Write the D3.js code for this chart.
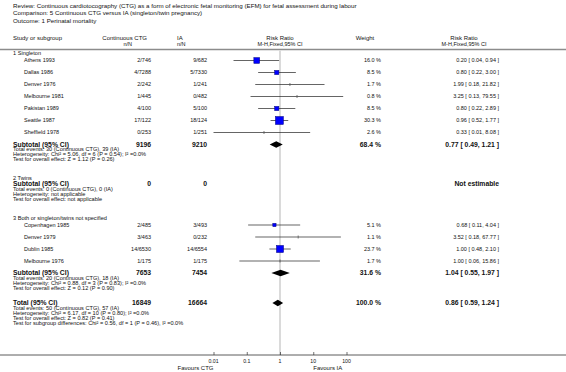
<!DOCTYPE html>
<html><head><meta charset="utf-8">
<script src="https://cdn.jsdelivr.net/npm/d3@7"></script>
<style>
html,body{margin:0;padding:0;background:#fff;}
svg{display:block;font-family:"Liberation Sans",Arial,sans-serif;}
</style></head>
<body><svg id="c" width="566" height="372"></svg>
<script>
// ---------- data ----------
const titleLines = [
  "Review:  Continuous cardiotocography (CTG) as a form of electronic fetal monitoring (EFM) for fetal assessment during labour",
  "Comparison:  5 Continuous CTG versus IA (singleton/twin pregnancy)",
  "Outcome:  1 Perinatal mortality"
];
const groupLabels = ["1 Singleton", "2 Twins", "3 Both or singleton/twins not specified"];
const studyNames = ["Athens 1993","Dallas 1986","Denver 1976","Melbourne 1981","Pakistan 1989","Seattle 1987","Sheffield 1978",
                    "Copenhagen 1985","Denver 1979","Dublin 1985","Melbourne 1976"];
const studyGroup = [0,0,0,0,0,0,0, 2,2,2,2];
const ctgNN = ["2/746","4/7288","2/242","1/445","4/100","17/122","0/253", "2/485","3/463","14/6530","1/175"];
const iaNN  = ["9/682","5/7330","1/241","0/482","5/100","18/124","1/251", "3/493","0/232","14/6554","1/175"];
const weights = [16.0, 8.5, 1.7, 0.8, 8.5, 30.3, 2.6, 5.1, 1.1, 23.7, 1.7];
const rr    = [0.20, 0.80, 1.99, 3.25, 0.80, 0.96, 0.33, 0.68, 3.52, 1.00, 1.00];
const rrLo  = [0.04, 0.22, 0.18, 0.13, 0.22, 0.52, 0.01, 0.11, 0.18, 0.48, 0.06];
const rrHi  = [0.94, 3.00, 21.82, 79.55, 2.89, 1.77, 8.08, 4.04, 67.77, 2.10, 15.86];

const subCtgN = ["9196","0","7653"];
const subIaN  = ["9210","0","7454"];
const subWeight = [68.4, null, 31.6];
const subRR   = [0.77, null, 1.04];
const subLo   = [0.49, null, 0.55];
const subHi   = [1.21, null, 1.97];
const subNotes = [
  ["Total events: 30 (Continuous CTG), 39 (IA)","Heterogeneity: Chi\u00B2 = 5.06, df = 6 (P = 0.54); I\u00B2 =0.0%","Test for overall effect: Z = 1.12 (P = 0.26)"],
  ["Total events: 0 (Continuous CTG), 0 (IA)","Heterogeneity: not applicable","Test for overall effect: not applicable"],
  ["Total events: 20 (Continuous CTG), 18 (IA)","Heterogeneity: Chi\u00B2 = 0.88, df = 3 (P = 0.83); I\u00B2 =0.0%","Test for overall effect: Z = 0.12 (P = 0.90)"]
];
const totalCtgN = "16849", totalIaN = "16664", totalWeight = 100.0;
const totalRR = 0.86, totalLo = 0.59, totalHi = 1.24;
const totalNotes = ["Total events: 50 (Continuous CTG), 57 (IA)",
  "Heterogeneity: Chi\u00B2 = 6.17, df = 10 (P = 0.80); I\u00B2 =0.0%",
  "Test for overall effect: Z = 0.82 (P = 0.41)",
  "Test for subgroup differences: Chi\u00B2 = 0.56, df = 1 (P = 0.46), I\u00B2 =0.0%"];
const tickValues = [0.01, 0.1, 1, 10, 100];
const tickLabels = ["0.01", "0.1", "1", "10", "100"];
const favourLeft = "Favours CTG", favourRight = "Favours IA";

// ---------- layout ----------
const W = 566, H = 372;
const svg = d3.select("#c");
const x = d3.scaleLog().domain([0.01, 100]).range([213.5, 346.5]);
const X = { left: 13, study: 24, ctg: 151, ia: 207, weight: 381, rrText: 499 };
const fmt = d3.format(".2f");
const rrStr = (r,l,h) => `${fmt(r)} [ ${fmt(l)}, ${fmt(h)} ]`;
const wStr = w => `${d3.format(".1f")(w)} %`;

function txt(xp, yp, s, opt = {}) {
  return svg.append("text").attr("x", xp).attr("y", yp).attr("dy", "0.35em")
    .attr("font-size", opt.size || 5.5).attr("font-weight", opt.bold ? "bold" : "normal")
    .attr("text-anchor", opt.anchor || "start").attr("fill", opt.fill || "#111").text(s);
}

// title
titleLines.forEach((t, i) => txt(X.left, 5.5 + i * 7.5, t, { size: 6.2 }));

// headers
txt(X.left, 38, "Study or subgroup", { size: 6 });
txt(X.ctg - 4, 38, "Continuous CTG", { size: 6, anchor: "end" });
txt(X.ctg - 19, 44, "n/N", { size: 5.5, anchor: "end" });
txt(177, 38, "IA", { size: 6 });
txt(177, 44, "n/N", { size: 5.5 });
txt(x(1), 38, "Risk Ratio", { size: 6, anchor: "middle" });
txt(x(1), 44, "M-H,Fixed,95% CI", { size: 5.5, anchor: "middle" });
txt(365, 38, "Weight", { size: 6, anchor: "middle" });
txt(464, 38, "Risk Ratio", { size: 6, anchor: "middle" });
txt(464, 44, "M-H,Fixed,95% CI", { size: 5.5, anchor: "middle" });
svg.append("line").attr("x1", 0).attr("x2", W).attr("y1", 49.5).attr("y2", 49.5)
  .attr("stroke", "#8c8c8c").attr("stroke-width", 1.5);

// axis geometry
const axisY = 355;
svg.append("line").attr("x1", x(1)).attr("x2", x(1)).attr("y1", 50.5).attr("y2", axisY)
  .attr("stroke", "#d6d6d6").attr("stroke-width", 1.8);

// rows
const forest = svg.append("g");
function diamond(yc, r, l, h) {
  const hh = 3.2;
  forest.append("path")
    .attr("d", `M${x(l)},${yc} L${x(r)},${yc - hh} L${x(h)},${yc} L${x(r)},${yc + hh} Z`)
    .attr("fill", "#000");
}
let y = 53.5;
groupLabels.forEach((g, gi) => {
  if (gi > 0) y += 19;
  txt(X.left, y, g, { size: 5.6 });
  const idx = studyGroup.map((sg, i) => sg === gi ? i : -1).filter(i => i >= 0);
  idx.forEach((i, k) => {
    y += (k === 0 ? 7 : 12);
    txt(X.study, y, studyNames[i], { size: 5.5 });
    txt(X.ctg, y, ctgNN[i], { size: 5.5, anchor: "end" });
    txt(X.ia, y, iaNN[i], { size: 5.5, anchor: "end" });
    txt(X.weight, y, wStr(weights[i]), { size: 5.5, anchor: "end" });
    txt(X.rrText, y, rrStr(rr[i], rrLo[i], rrHi[i]), { size: 5.5, anchor: "end" });
    forest.append("line").attr("x1", x(rrLo[i])).attr("x2", x(rrHi[i])).attr("y1", y).attr("y2", y)
      .attr("stroke", "#222").attr("stroke-width", 0.7);
    const side = 1.45 * Math.sqrt(weights[i]);
    if (side >= 2.5) {
      forest.append("rect").attr("x", x(rr[i]) - side / 2).attr("y", y - side / 2)
        .attr("width", side).attr("height", side)
        .attr("fill", "#0000ff").attr("stroke", "#00007a").attr("stroke-width", 0.5);
    } else {
      forest.append("line").attr("x1", x(rr[i])).attr("x2", x(rr[i])).attr("y1", y - 1.5).attr("y2", y + 1.5)
        .attr("stroke", "#555").attr("stroke-width", 0.8);
    }
  });
  y += idx.length ? 12 : 5.5;
  txt(X.left, y, "Subtotal (95% CI)", { size: 6.8, bold: true });
  txt(X.ctg, y, subCtgN[gi], { size: 6.8, bold: true, anchor: "end" });
  txt(X.ia, y, subIaN[gi], { size: 6.8, bold: true, anchor: "end" });
  if (subRR[gi] != null) {
    txt(X.weight, y, wStr(subWeight[gi]), { size: 6.8, bold: true, anchor: "end" });
    txt(X.rrText, y, rrStr(subRR[gi], subLo[gi], subHi[gi]), { size: 6.8, bold: true, anchor: "end" });
    diamond(y, subRR[gi], subLo[gi], subHi[gi]);
  } else {
    txt(X.rrText, y, "Not estimable", { size: 6.8, bold: true, anchor: "end" });
  }
  subNotes[gi].forEach(n => { y += 5; txt(X.left, y, n, { size: 5.6 }); });
});
y += 15;
txt(X.left, y, "Total (95% CI)", { size: 6.8, bold: true });
txt(X.ctg, y, totalCtgN, { size: 6.8, bold: true, anchor: "end" });
txt(X.ia, y, totalIaN, { size: 6.8, bold: true, anchor: "end" });
txt(X.weight, y, wStr(totalWeight), { size: 6.8, bold: true, anchor: "end" });
txt(X.rrText, y, rrStr(totalRR, totalLo, totalHi), { size: 6.8, bold: true, anchor: "end" });
diamond(y, totalRR, totalLo, totalHi);
totalNotes.forEach(n => { y += 5; txt(X.left, y, n, { size: 5.6 }); });

// axis
svg.append("line").attr("x1", 0).attr("x2", W).attr("y1", axisY).attr("y2", axisY)
  .attr("stroke", "#333").attr("stroke-width", 0.8);
const axis = d3.axisTop(x).tickValues(tickValues).tickSize(3).tickFormat(() => "");
const ag = svg.append("g").attr("transform", `translate(0,${axisY})`).call(axis);
ag.select(".domain").remove();
ag.selectAll(".tick line").attr("stroke", "#333").attr("stroke-width", 0.7);
tickValues.forEach((v, i) => txt(x(v), axisY + 6, tickLabels[i], { size: 5.2, anchor: "middle" }));
txt(x(0.01), axisY + 12.5, favourLeft, { size: 6, anchor: "end" });
txt(x(10), axisY + 12.5, favourRight, { size: 6, anchor: "start" });
</script></body></html>
